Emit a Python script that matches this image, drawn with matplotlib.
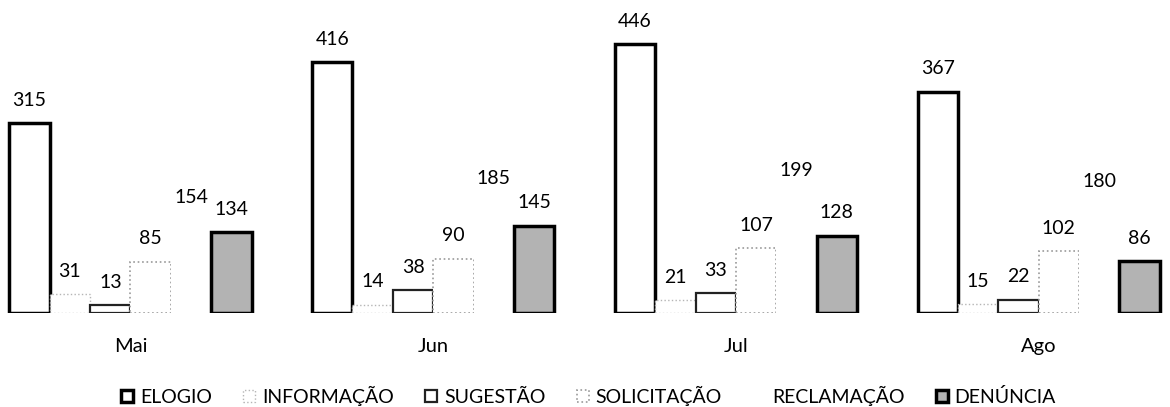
import matplotlib.pyplot as plt
import numpy as np

months = ["Mai", "Jun", "Jul", "Ago"]
categories = ["ELOGIO", "INFORMAÇÃO", "SUGESTÃO", "SOLICITAÇÃO", "RECLAMAÇÃO", "DENÚNCIA"]

elogio = [315, 416, 446, 367]
informacao = [31, 14, 21, 15]
sugestao = [13, 38, 33, 22]
solicitacao = [85, 90, 107, 102]
reclamacao = [154, 185, 199, 180]
denuncia = [134, 145, 128, 86]

series = [elogio, informacao, sugestao, solicitacao, reclamacao, denuncia]

# scanned-looking bar styles, one per category
styles = [
    dict(facecolor="white", edgecolor="black", linewidth=2.5),
    dict(facecolor="white", edgecolor="#b5b5b5", linewidth=1, linestyle=":"),
    dict(facecolor="white", edgecolor="#222222", linewidth=1.6),
    dict(facecolor="white", edgecolor="#9a9a9a", linewidth=1.2, linestyle=":"),
    dict(facecolor="white", edgecolor="none", linewidth=0),
    dict(facecolor="#b3b3b3", edgecolor="black", linewidth=2.5),
]

plt.rcParams["font.family"] = ["Lato", "DejaVu Sans"]

fig = plt.figure(figsize=(11.7, 4.07), dpi=100)
ax = fig.add_axes([0, 94 / 407, 1, 313 / 407])

x = np.arange(len(months))
width = 0.8 / len(categories)

for i, (name, vals, st) in enumerate(zip(categories, series, styles)):
    pos = x + (i - 2.5) * width
    bars = ax.bar(pos, vals, width, label=name, **st)
    for b, v in zip(bars, vals):
        ax.annotate(str(v), (b.get_x() + b.get_width() / 2, v), xytext=(0, 16.5),
                    textcoords="offset points", ha="center", va="center", fontsize=14)

ax.set_xlim(-0.431, 3.434)
ax.set_ylim(0, 519)
for s in ax.spines.values():
    s.set_visible(False)
ax.set_yticks([])
ax.set_xticks(x, months, fontsize=14.5)
ax.tick_params(length=0, pad=18)

ax.legend(loc="center", bbox_to_anchor=(0.503, 11 / 407), bbox_transform=fig.transFigure,
          ncol=6, frameon=False, fontsize=14, handlelength=0.62, handleheight=0.55,
          handletextpad=0.36, columnspacing=1.6, borderpad=0)

fig.savefig("out.png", dpi=100)
